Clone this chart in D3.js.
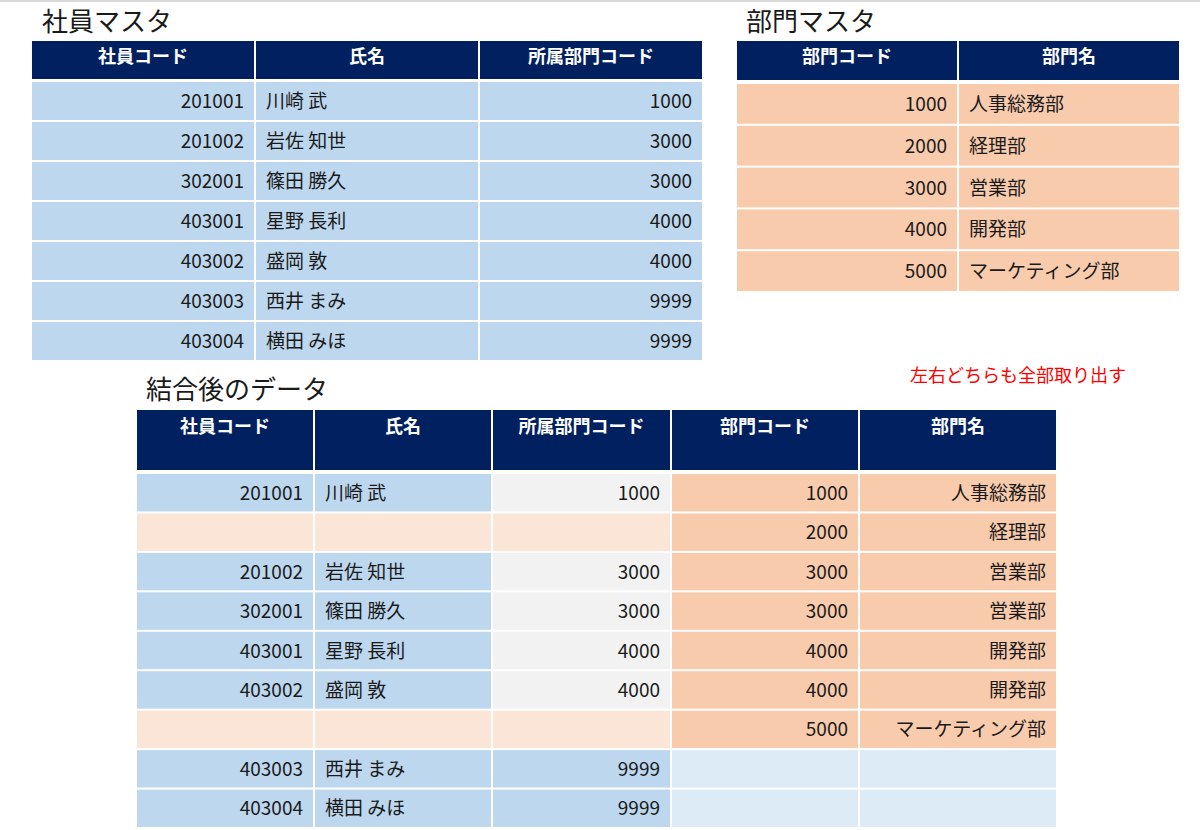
<!DOCTYPE html><html><head><meta charset="utf-8"><script src="https://cdn.jsdelivr.net/npm/d3@7"></script>
<style>body{margin:0;background:#fff}</style></head><body><svg id="c" width="1200" height="830"></svg>
<script>
const empHeaders=["社員コード","氏名","所属部門コード"];
const empCodes=["201001","201002","302001","403001","403002","403003","403004"];
const empNames=["川崎 武","岩佐 知世","篠田 勝久","星野 長利","盛岡 敦","西井 まみ","横田 みほ"];
const empDept=["1000","3000","3000","4000","4000","9999","9999"];
const deptHeaders=["部門コード","部門名"];
const deptCodes=["1000","2000","3000","4000","5000"];
const deptNames=["人事総務部","経理部","営業部","開発部","マーケティング部"];
const joinHeaders=["社員コード","氏名","所属部門コード","部門コード","部門名"];
const joinEmp=["201001","","201002","302001","403001","403002","","403003","403004"];
const joinName=["川崎 武","","岩佐 知世","篠田 勝久","星野 長利","盛岡 敦","","西井 まみ","横田 みほ"];
const joinEmpDept=["1000","","3000","3000","4000","4000","","9999","9999"];
const joinDept=["1000","2000","3000","3000","4000","4000","5000","",""];
const joinDeptName=["人事総務部","経理部","営業部","営業部","開発部","開発部","マーケティング部","",""];

const C={hd:"#002060",blue:"#BDD7EE",org:"#F8CBAD",lorg:"#FBE5D6",gray:"#F2F2F2",lblue:"#DDEBF7"};
const svg=d3.select("#c");
const F="'Noto Sans CJK JP','Noto Sans',sans-serif";
svg.append("rect").attr("x",0).attr("y",0).attr("width",1200).attr("height",2).attr("fill","#d9d9d9");

function table(o){
  const g=svg.append("g");
  const x=d3.scaleOrdinal().domain(d3.range(o.cols.length)).range(o.cols);
  const n=o.data[0].length;
  const y=d3.scaleLinear().domain([0,n]).range([o.rowTop,o.rowBot]);
  o.headers.forEach((h,i)=>{
    const x0=o.cols[i],x1=o.cols[i+1]||o.right;
    g.append("rect").attr("x",x0+1).attr("y",o.hTop).attr("width",x1-x0-2).attr("height",o.hBot-o.hTop).attr("fill",C.hd);
    g.append("text").attr("x",(x0+x1)/2).attr("y",o.hText).attr("text-anchor","middle").attr("fill","#fff")
     .attr("font-family",F).attr("font-weight","bold").attr("font-size",18).text(h);
  });
  o.data.forEach((col,i)=>{
    const x0=o.cols[i],x1=o.cols[i+1]||o.right;
    col.forEach((v,r)=>{
      g.append("rect").attr("x",x0+1).attr("y",y(r)+1).attr("width",x1-x0-2).attr("height",y(r+1)-y(r)-2).attr("fill",o.fill(i,r));
      const right=o.align[i]==="end";
      g.append("text").attr("x",right?x1-11:x0+11).attr("y",(y(r)+y(r+1))/2+7).attr("text-anchor",right?"end":"start")
       .attr("font-family",F).attr("font-size",19).attr("fill","#1a1a1a").text(v);
    });
  });
}
function title(t,x,y,s,c){svg.append("text").attr("x",x).attr("y",y).attr("font-family",F).attr("font-size",s).attr("fill",c||"#1a1a1a").text(t);}

title("社員マスタ",42,31,26);
table({headers:empHeaders,cols:[31,255,479],right:703,hTop:41,hBot:79,hText:63,rowTop:81,rowBot:361,
  data:[empCodes,empNames,empDept],align:["end","start","end"],fill:()=>C.blue});
title("部門マスタ",746,31,26);
table({headers:deptHeaders,cols:[736,958],right:1180,hTop:41,hBot:80,hText:63,rowTop:83,rowBot:292,
  data:[deptCodes,deptNames],align:["end","start"],fill:()=>C.org});
title("左右どちらも全部取り出す",910,382,18,"#FF0000");
title("結合後のデータ",146,399,26);
table({headers:joinHeaders,cols:[136,314,492,671,859],right:1057,hTop:410,hBot:470,hText:433,rowTop:473,rowBot:828,
  data:[joinEmp,joinName,joinEmpDept,joinDept,joinDeptName],align:["end","start","end","end","end"],
  fill:(i,r)=>{
    const leftEmpty=joinEmp[r]==="",rightEmpty=joinDept[r]==="";
    if(i<3){ if(leftEmpty) return C.lorg; if(i===2) return rightEmpty?C.blue:C.gray; return C.blue;}
    return rightEmpty?C.lblue:C.org;
  }});
</script></body></html>
